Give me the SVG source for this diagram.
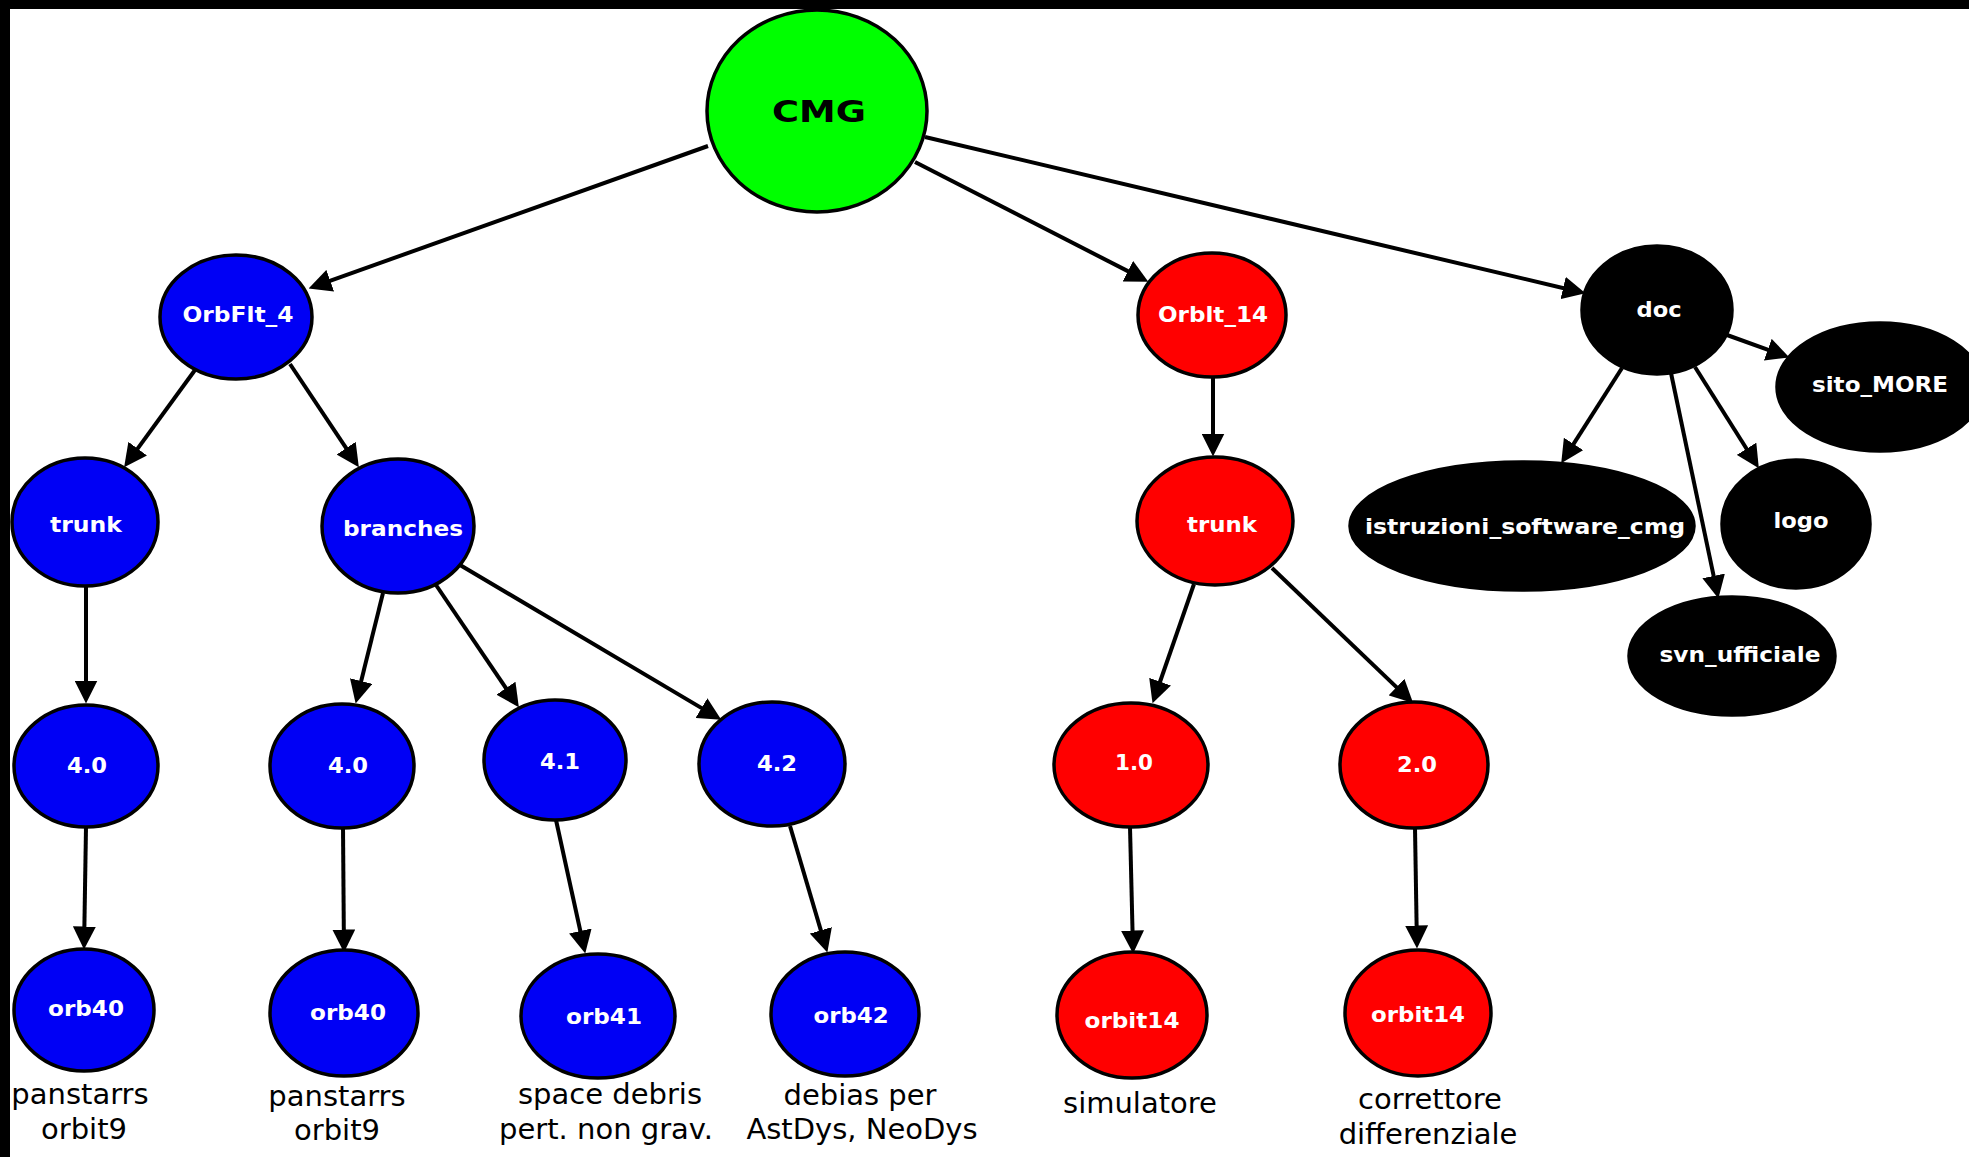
<svg xmlns="http://www.w3.org/2000/svg" width="1969" height="1157" viewBox="0 0 1969 1157">
<style>
.n{stroke:#000;stroke-width:3.5}
.g{fill:#00ff00}
.b{fill:#0000f5}
.r{fill:#ff0000}
.k{fill:#000}
.t{font-family:"DejaVu Sans",Verdana,sans-serif;font-weight:bold;font-size:22px;fill:#fff;text-anchor:middle}
.l{font-family:"DejaVu Sans",Verdana,sans-serif;font-size:29px;fill:#000;text-anchor:middle}
.c line{stroke:#000;stroke-width:4;fill:none}
</style>
<defs>
<marker id="ah" markerUnits="userSpaceOnUse" markerWidth="23" markerHeight="23" viewBox="0 0 20 20" refX="10" refY="10" orient="auto">
<path d="M0,0 L20,10 L0,20 z" fill="#000"/>
</marker>
</defs>
<rect x="0" y="0" width="1969" height="1157" fill="#fff"/>
<g class="c" id="connectors">
<line x1="708" y1="146" x2="319.4" y2="284.6" marker-end="url(#ah)"/>
<line x1="915" y1="162" x2="1138.1" y2="276.4" marker-end="url(#ah)"/>
<line x1="925" y1="137" x2="1574.3" y2="290.7" marker-end="url(#ah)"/>
<line x1="195" y1="370" x2="130.9" y2="457.9" marker-end="url(#ah)"/>
<line x1="290" y1="364" x2="352.5" y2="457.7" marker-end="url(#ah)"/>
<line x1="86" y1="587" x2="86" y2="692" marker-end="url(#ah)"/>
<line x1="86" y1="827" x2="84.2" y2="938" marker-end="url(#ah)"/>
<line x1="383" y1="593" x2="358.4" y2="692.3" marker-end="url(#ah)"/>
<line x1="343" y1="827" x2="343.9" y2="941" marker-end="url(#ah)"/>
<line x1="436" y1="585" x2="512.4" y2="697.7" marker-end="url(#ah)"/>
<line x1="460" y1="565" x2="711.4" y2="713.9" marker-end="url(#ah)"/>
<line x1="556" y1="820" x2="582.8" y2="942.2" marker-end="url(#ah)"/>
<line x1="790" y1="826" x2="824.1" y2="941.4" marker-end="url(#ah)"/>
<line x1="1213" y1="377" x2="1213" y2="445" marker-end="url(#ah)"/>
<line x1="1194" y1="584" x2="1156.3" y2="692.5" marker-end="url(#ah)"/>
<line x1="1272" y1="568" x2="1404.8" y2="695.1" marker-end="url(#ah)"/>
<line x1="1130" y1="827" x2="1132.8" y2="942" marker-end="url(#ah)"/>
<line x1="1415" y1="828" x2="1416.8" y2="937" marker-end="url(#ah)"/>
<line x1="1727" y1="335" x2="1778.6" y2="353.6" marker-end="url(#ah)"/>
<line x1="1622" y1="368" x2="1567.4" y2="453.6" marker-end="url(#ah)"/>
<line x1="1671" y1="373" x2="1716" y2="587.2" marker-end="url(#ah)"/>
<line x1="1695" y1="367" x2="1752.7" y2="458.5" marker-end="url(#ah)"/>
</g>
<g id="cmg"><ellipse class="n g" cx="817" cy="111" rx="110" ry="101"/><text class="t" x="819" y="122" style="fill:#000;font-size:31px" textLength="94" lengthAdjust="spacingAndGlyphs">CMG</text></g>
<g id="orbfit4"><ellipse class="n b" cx="236" cy="317" rx="76" ry="62"/><text class="t" x="238" y="322" textLength="111" lengthAdjust="spacingAndGlyphs">OrbFlt_4</text></g>
<g id="trunk-blue"><ellipse class="n b" cx="85" cy="522" rx="73" ry="64"/><text class="t" x="86" y="532" textLength="72" lengthAdjust="spacingAndGlyphs">trunk</text></g>
<g id="branches"><ellipse class="n b" cx="398" cy="526" rx="76" ry="67"/><text class="t" x="403" y="536" textLength="120" lengthAdjust="spacingAndGlyphs">branches</text></g>
<g id="v40a"><ellipse class="n b" cx="86" cy="766" rx="72" ry="61"/><text class="t" x="87" y="773" textLength="40" lengthAdjust="spacingAndGlyphs">4.0</text></g>
<g id="v40b"><ellipse class="n b" cx="342" cy="766" rx="72" ry="62"/><text class="t" x="348" y="773" textLength="40" lengthAdjust="spacingAndGlyphs">4.0</text></g>
<g id="v41"><ellipse class="n b" cx="555" cy="760" rx="71" ry="60"/><text class="t" x="560" y="769" textLength="40" lengthAdjust="spacingAndGlyphs">4.1</text></g>
<g id="v42"><ellipse class="n b" cx="772" cy="764" rx="73" ry="62"/><text class="t" x="777" y="771" textLength="40" lengthAdjust="spacingAndGlyphs">4.2</text></g>
<g id="orb40a"><ellipse class="n b" cx="84" cy="1010" rx="70" ry="61"/><text class="t" x="86" y="1016" textLength="76" lengthAdjust="spacingAndGlyphs">orb40</text></g>
<g id="orb40b"><ellipse class="n b" cx="344" cy="1013" rx="74" ry="63"/><text class="t" x="348" y="1020" textLength="76" lengthAdjust="spacingAndGlyphs">orb40</text></g>
<g id="orb41"><ellipse class="n b" cx="598" cy="1016" rx="77" ry="62"/><text class="t" x="604" y="1024" textLength="76" lengthAdjust="spacingAndGlyphs">orb41</text></g>
<g id="orb42"><ellipse class="n b" cx="845" cy="1014" rx="74" ry="62"/><text class="t" x="851" y="1023" textLength="75" lengthAdjust="spacingAndGlyphs">orb42</text></g>
<g id="orbit14"><ellipse class="n r" cx="1212" cy="315" rx="74" ry="62"/><text class="t" x="1213" y="322" textLength="110" lengthAdjust="spacingAndGlyphs">Orblt_14</text></g>
<g id="trunk-red"><ellipse class="n r" cx="1215" cy="521" rx="78" ry="64"/><text class="t" x="1222" y="532" textLength="70" lengthAdjust="spacingAndGlyphs">trunk</text></g>
<g id="v10"><ellipse class="n r" cx="1131" cy="765" rx="77" ry="62"/><text class="t" x="1134" y="770" textLength="38" lengthAdjust="spacingAndGlyphs">1.0</text></g>
<g id="v20"><ellipse class="n r" cx="1414" cy="765" rx="74" ry="63"/><text class="t" x="1417" y="772" textLength="40" lengthAdjust="spacingAndGlyphs">2.0</text></g>
<g id="orbit14a"><ellipse class="n r" cx="1132" cy="1015" rx="75" ry="63"/><text class="t" x="1132" y="1028" textLength="95" lengthAdjust="spacingAndGlyphs">orbit14</text></g>
<g id="orbit14b"><ellipse class="n r" cx="1418" cy="1013" rx="73" ry="63"/><text class="t" x="1418" y="1022" textLength="94" lengthAdjust="spacingAndGlyphs">orbit14</text></g>
<g id="doc"><ellipse class="n k" cx="1657" cy="310" rx="75" ry="64"/><text class="t" x="1659" y="317" textLength="45" lengthAdjust="spacingAndGlyphs">doc</text></g>
<g id="sito_more"><ellipse class="n k" cx="1880" cy="387" rx="103" ry="64"/><text class="t" x="1880" y="392" textLength="136" lengthAdjust="spacingAndGlyphs">sito_MORE</text></g>
<g id="istruzioni"><ellipse class="n k" cx="1522" cy="526" rx="172" ry="64"/><text class="t" x="1525" y="534" textLength="320" lengthAdjust="spacingAndGlyphs">istruzioni_software_cmg</text></g>
<g id="logo"><ellipse class="n k" cx="1796" cy="524" rx="74" ry="64"/><text class="t" x="1801" y="528" textLength="55" lengthAdjust="spacingAndGlyphs">logo</text></g>
<g id="svn_ufficiale"><ellipse class="n k" cx="1732" cy="656" rx="103" ry="59"/><text class="t" x="1740" y="662" textLength="161" lengthAdjust="spacingAndGlyphs">svn_ufficiale</text></g>
<g id="labels">
<text class="l" x="80" y="1104">panstarrs</text>
<text class="l" x="84" y="1139">orbit9</text>
<text class="l" x="337" y="1106">panstarrs</text>
<text class="l" x="337" y="1140">orbit9</text>
<text class="l" x="610" y="1104">space debris</text>
<text class="l" x="606" y="1139">pert. non grav.</text>
<text class="l" x="860" y="1105">debias per</text>
<text class="l" x="862" y="1139">AstDys, NeoDys</text>
<text class="l" x="1140" y="1113">simulatore</text>
<text class="l" x="1430" y="1109">correttore</text>
<text class="l" x="1428" y="1144">differenziale</text>
</g>
<rect x="0" y="0" width="1969" height="9" fill="#000"/>
<rect x="0" y="0" width="10" height="1157" fill="#000"/>
</svg>
